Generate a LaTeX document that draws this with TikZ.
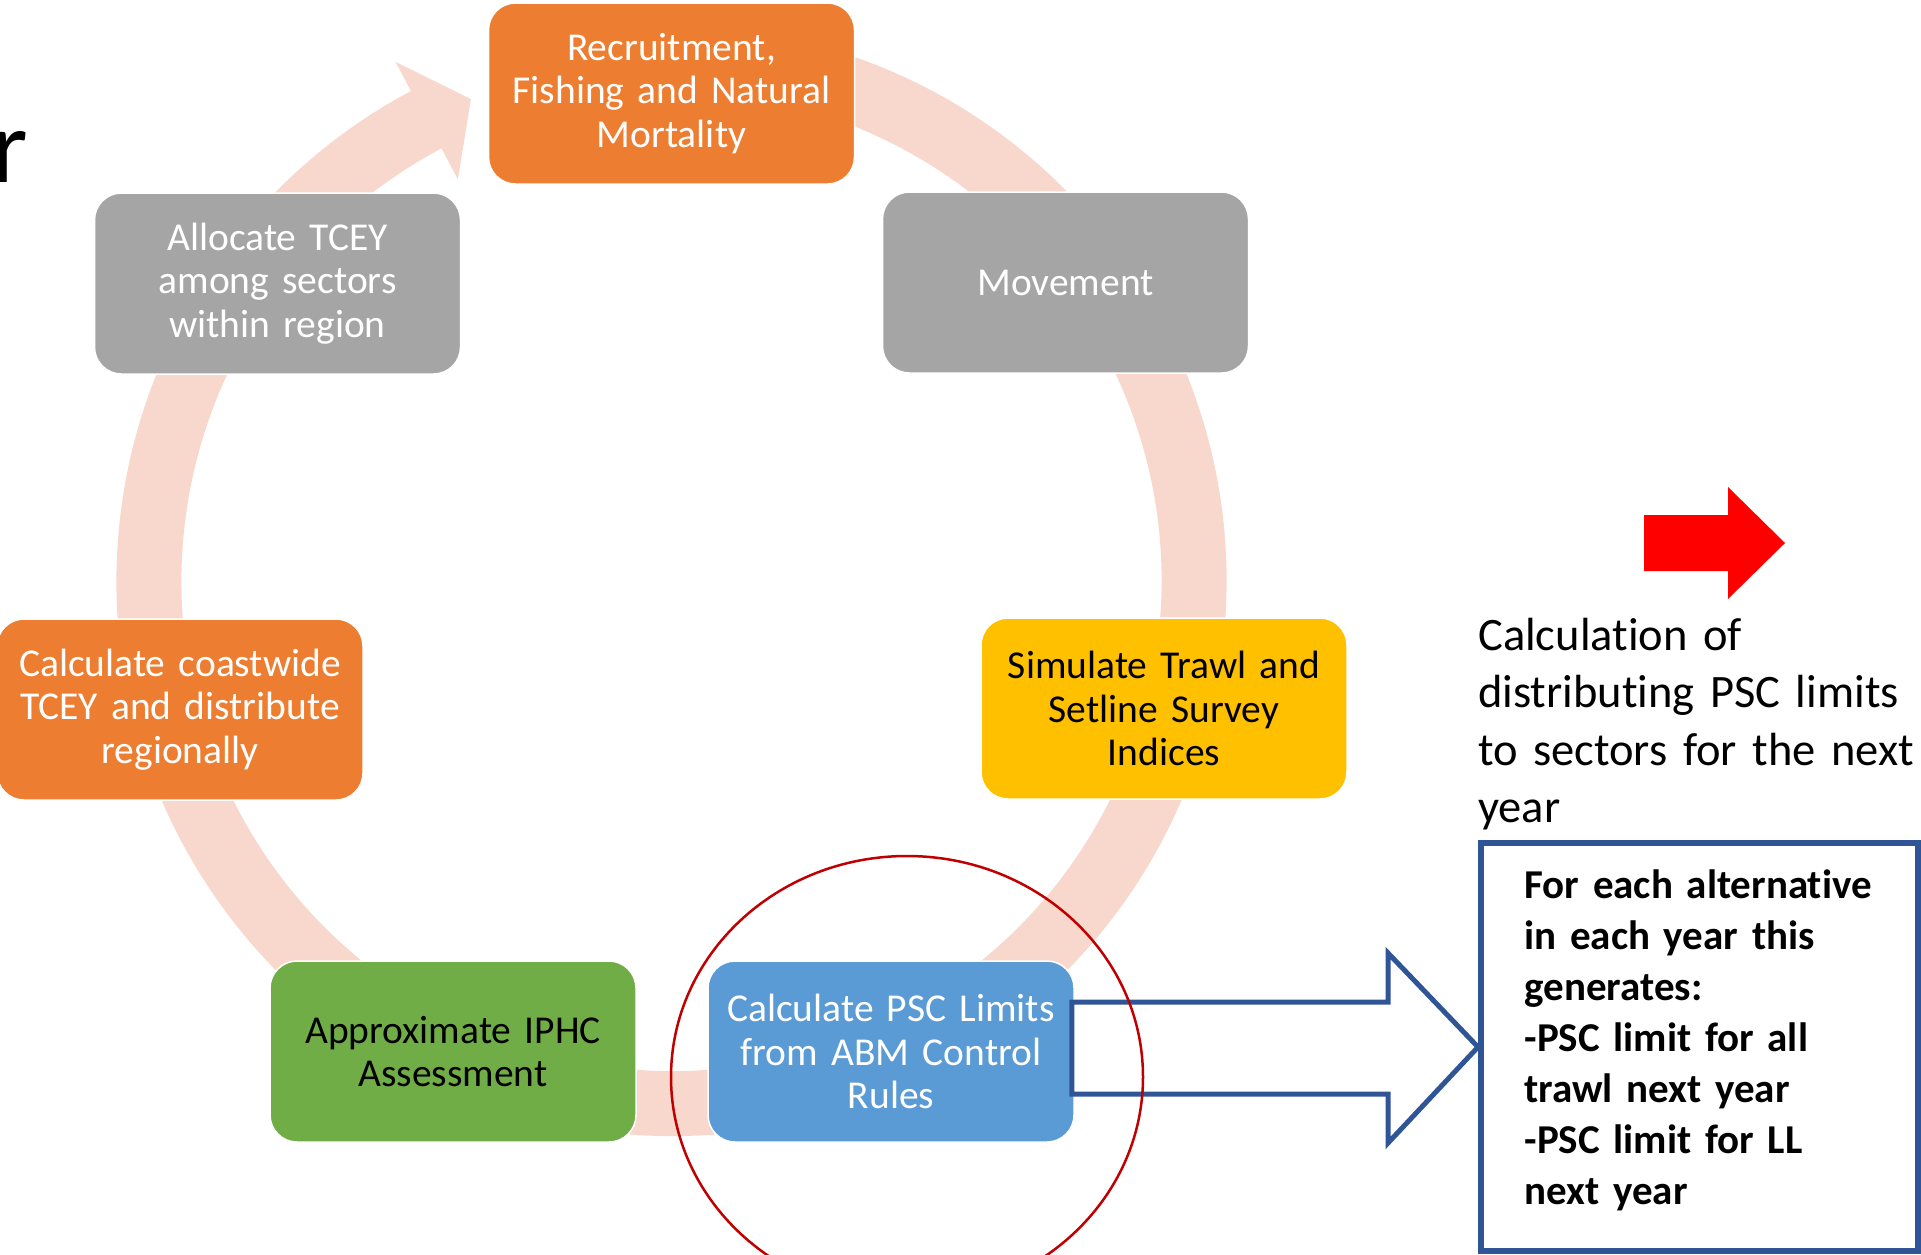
\documentclass[tikz,border=0pt]{standalone}
\usepackage{fontspec}
\setmainfont[Ligatures=NoCommon]{Carlito}
\usepackage{tikz}
\usetikzlibrary{calc}

\definecolor{boxorange}{RGB}{237,125,49}
\definecolor{boxgray}{RGB}{165,165,165}
\definecolor{boxyellow}{RGB}{255,192,0}
\definecolor{boxblue}{RGB}{91,155,213}
\definecolor{boxgreen}{RGB}{112,173,71}
\definecolor{ringpink}{RGB}{248,216,205}
\definecolor{outblue}{RGB}{47,85,151}
\definecolor{markred}{RGB}{192,0,0}

\begin{document}
\begin{tikzpicture}[x=1pt,y=-1pt,
	stepbox/.style={rounded corners=27pt, draw=white, line width=1.5pt, minimum width=366pt, minimum height=181pt, text width=340pt, inner sep=0pt, align=center, font=\fontsize{39.5pt}{43.5pt}\selectfont},
	outarrow/.style={draw=outblue, line width=5pt, line join=miter},
	resultbox/.style={draw=outblue, line width=6pt, minimum width=437pt, minimum height=408pt, text width=350pt, inner xsep=43.5pt, align=left, font=\bfseries\fontsize{41pt}{51pt}\selectfont}]
			\useasboundingbox (0,0) rectangle (1921,1254);
			
			\coordinate (hub) at (671.5,581);
			\fill[ringpink] ($(hub)+(280:555)$) arc[start angle=280, end angle=602, radius=555]
				-- ($(hub)+(602:588)$) -- ($(hub)+(607.4:522)$) -- ($(hub)+(602:455)$) -- ($(hub)+(602:490)$)
				arc[start angle=602, end angle=280, radius=490] -- cycle;
			
			\node[anchor=base east, inner sep=0pt, font=\fontsize{105pt}{120pt}\selectfont] (title) at (28,182) {r};
			
			\node[stepbox, fill=boxorange, text=white] (recruit) at (671.5,93.5) {Recruitment,\\Fishing and Natural\\Mortality};
			\node[stepbox, fill=boxgray, text=white] (move) at (1065.5,282.5) {Movement};
			\node[stepbox, fill=boxyellow] (survey) at (1164,708.5) {Simulate Trawl and\\Setline Survey\\Indices};
			\node[stepbox, fill=boxblue, text=white] (psc) at (891,1051.5) {Calculate PSC Limits\\from ABM Control\\Rules};
			\node[stepbox, fill=boxgreen] (assess) at (453,1051.5) {Approximate IPHC\\Assessment};
			\node[stepbox, fill=boxorange, text=white] (tcey) at (180,709.5) {Calculate coastwide\\TCEY and distribute\\regionally};
			\node[stepbox, fill=boxgray, text=white] (alloc) at (277.5,283.5) {Allocate TCEY\\among sectors\\within region};
			
			\fill[red] (1644,515) -- (1728,515) -- (1728,487) -- (1785,543) -- (1728,599) -- (1728,571) -- (1644,571) -- cycle;
			\node[anchor=base west, inner sep=0pt, text width=490pt, align=left, font=\fontsize{46.5pt}{57.5pt}\selectfont] (note) at (1478,650) {Calculation of\\distributing PSC limits\\to sectors for the next\\year};
			
			\node[resultbox] (res) at (1699.5,1047) {For each alternative\\in each year this\\generates:\\-PSC limit for all\\trawl next year\\-PSC limit for LL\\next year\rule[-20pt]{0pt}{1pt}};
			
			\draw[outarrow] ($(psc.east)+(-3,-49.5)$) -- ($(res.west)+(-90,-45)$) -- ($(res.west)+(-90,-94)$) -- (res.west)
				-- ($(res.west)+(-90,96)$) -- ($(res.west)+(-90,47)$) -- ($(psc.east)+(-3,42.5)$) -- cycle;
			\draw[markred, line width=2.5pt] (907,1077) ellipse [x radius=236, y radius=221];
\end{tikzpicture}
\end{document}
